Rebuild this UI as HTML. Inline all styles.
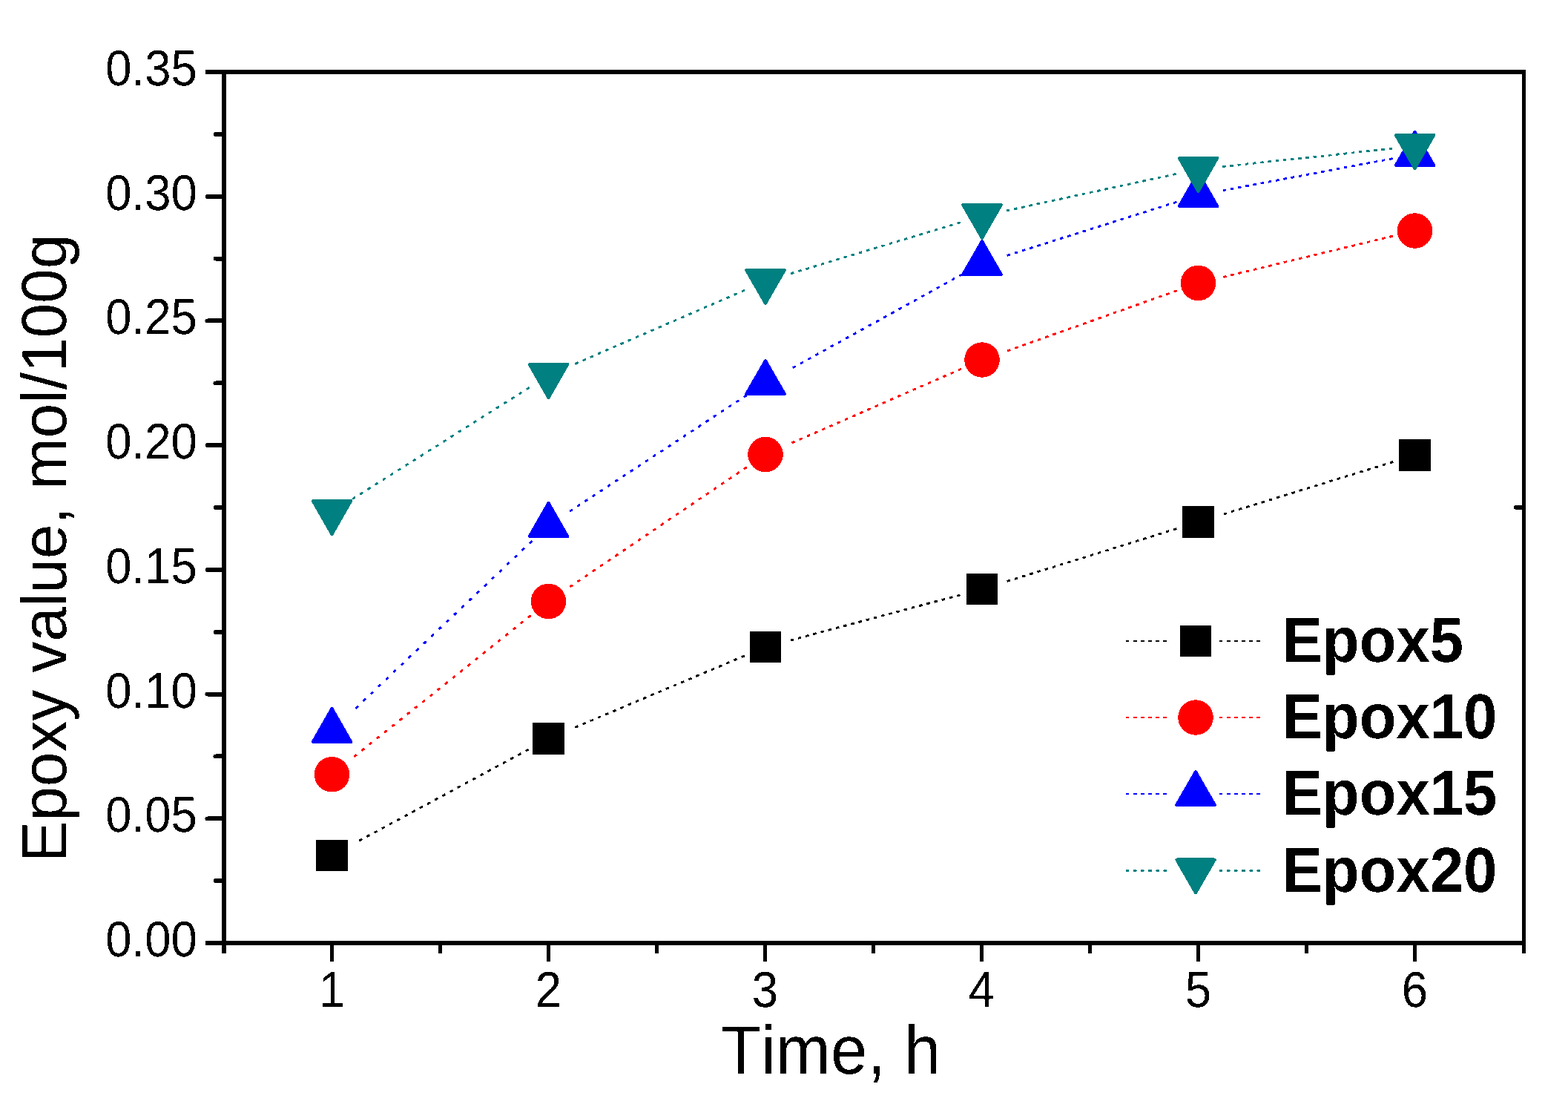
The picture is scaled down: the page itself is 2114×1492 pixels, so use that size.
<!DOCTYPE html>
<html lang="en"><head><meta charset="utf-8"><title>Epoxy value vs. time</title>
<style>
html,body{margin:0;padding:0;background:#fff;}
body{width:2114px;height:1492px;overflow:hidden;}
svg{display:block;}
text{font-family:"Liberation Sans", sans-serif;fill:#000;font-kerning:none;font-variant-ligatures:none;text-rendering:geometricPrecision;}
.tk{font-size:63.5px;}
.lg{font-size:81.5px;font-weight:bold;}
</style></head><body>
<svg width="2114" height="1492" viewBox="0 0 2114 1492">
<defs><filter id="bin" filterUnits="userSpaceOnUse" x="0" y="0" width="2114" height="1492" color-interpolation-filters="sRGB"><feComponentTransfer><feFuncA type="discrete" tableValues="0 1"/></feComponentTransfer></filter></defs>
<rect x="0" y="0" width="2114" height="1492" fill="#fff"/>
<g filter="url(#bin)">
<g fill="#000" shape-rendering="crispEdges">
<rect x="299" y="94" width="6" height="1191"/>
<rect x="2052" y="94" width="5" height="1191"/>
<rect x="277" y="94" width="1780" height="6"/>
<rect x="277" y="1268" width="1780" height="6"/>
<path d="M290.3 1187.1H300" stroke="#000" stroke-width="5.6" stroke-linecap="round" shape-rendering="geometricPrecision"/>
<path d="M279.3 1103.3H300" stroke="#000" stroke-width="5.6" stroke-linecap="round" shape-rendering="geometricPrecision"/>
<path d="M290.3 1019.4H300" stroke="#000" stroke-width="5.6" stroke-linecap="round" shape-rendering="geometricPrecision"/>
<path d="M279.3 935.6H300" stroke="#000" stroke-width="5.6" stroke-linecap="round" shape-rendering="geometricPrecision"/>
<path d="M290.3 851.7H300" stroke="#000" stroke-width="5.6" stroke-linecap="round" shape-rendering="geometricPrecision"/>
<path d="M279.3 767.9H300" stroke="#000" stroke-width="5.6" stroke-linecap="round" shape-rendering="geometricPrecision"/>
<path d="M290.3 684.0H300" stroke="#000" stroke-width="5.6" stroke-linecap="round" shape-rendering="geometricPrecision"/>
<path d="M279.3 600.1H300" stroke="#000" stroke-width="5.6" stroke-linecap="round" shape-rendering="geometricPrecision"/>
<path d="M290.3 516.3H300" stroke="#000" stroke-width="5.6" stroke-linecap="round" shape-rendering="geometricPrecision"/>
<path d="M279.3 432.4H300" stroke="#000" stroke-width="5.6" stroke-linecap="round" shape-rendering="geometricPrecision"/>
<path d="M290.3 348.6H300" stroke="#000" stroke-width="5.6" stroke-linecap="round" shape-rendering="geometricPrecision"/>
<path d="M279.3 264.7H300" stroke="#000" stroke-width="5.6" stroke-linecap="round" shape-rendering="geometricPrecision"/>
<path d="M290.3 180.9H300" stroke="#000" stroke-width="5.6" stroke-linecap="round" shape-rendering="geometricPrecision"/>
<path d="M447.5 1273V1293.8" stroke="#000" stroke-width="5.2" stroke-linecap="round" shape-rendering="geometricPrecision"/>
<path d="M593.5 1273V1282.8" stroke="#000" stroke-width="5.2" stroke-linecap="round" shape-rendering="geometricPrecision"/>
<path d="M739.5 1273V1293.8" stroke="#000" stroke-width="5.2" stroke-linecap="round" shape-rendering="geometricPrecision"/>
<path d="M885.5 1273V1282.8" stroke="#000" stroke-width="5.2" stroke-linecap="round" shape-rendering="geometricPrecision"/>
<path d="M1031.5 1273V1293.8" stroke="#000" stroke-width="5.2" stroke-linecap="round" shape-rendering="geometricPrecision"/>
<path d="M1177.5 1273V1282.8" stroke="#000" stroke-width="5.2" stroke-linecap="round" shape-rendering="geometricPrecision"/>
<path d="M1323.5 1273V1293.8" stroke="#000" stroke-width="5.2" stroke-linecap="round" shape-rendering="geometricPrecision"/>
<path d="M1469.5 1273V1282.8" stroke="#000" stroke-width="5.2" stroke-linecap="round" shape-rendering="geometricPrecision"/>
<path d="M1615.5 1273V1293.8" stroke="#000" stroke-width="5.2" stroke-linecap="round" shape-rendering="geometricPrecision"/>
<path d="M1761.5 1273V1282.8" stroke="#000" stroke-width="5.2" stroke-linecap="round" shape-rendering="geometricPrecision"/>
<path d="M1907.5 1273V1293.8" stroke="#000" stroke-width="5.2" stroke-linecap="round" shape-rendering="geometricPrecision"/>
<path d="M2043.6 684H2053" stroke="#000" stroke-width="5.6" stroke-linecap="round" shape-rendering="geometricPrecision"/>
</g>
<g class="tk">
<text transform="translate(142.2 1289.0) scale(1 1.068)">0.00</text>
<text transform="translate(142.2 1121.3) scale(1 1.068)">0.05</text>
<text transform="translate(142.2 953.6) scale(1 1.068)">0.10</text>
<text transform="translate(142.2 785.9) scale(1 1.068)">0.15</text>
<text transform="translate(142.2 618.1) scale(1 1.068)">0.20</text>
<text transform="translate(142.2 450.4) scale(1 1.068)">0.25</text>
<text transform="translate(142.2 282.7) scale(1 1.068)">0.30</text>
<text transform="translate(142.2 115.0) scale(1 1.068)">0.35</text>
<text transform="translate(447.5 1357) scale(1 1.068)" text-anchor="middle">1</text>
<text transform="translate(739.5 1357) scale(1 1.068)" text-anchor="middle">2</text>
<text transform="translate(1031.5 1357) scale(1 1.068)" text-anchor="middle">3</text>
<text transform="translate(1323.5 1357) scale(1 1.068)" text-anchor="middle">4</text>
<text transform="translate(1615.5 1357) scale(1 1.068)" text-anchor="middle">5</text>
<text transform="translate(1907.5 1357) scale(1 1.068)" text-anchor="middle">6</text>
</g>
<text transform="translate(971.8 1447.2) scale(1 1.04)" font-size="88.9">Time, h</text>
<text transform="translate(89 1162.4) rotate(-90) scale(1 1.025)" font-size="83.7">Epoxy value, mol/100g</text>
<g stroke="#000000" stroke-width="2.9" fill="none">
<path d="M712.66 1009.98L484.21 1133.20" stroke-dasharray="4.60 6.99"/>
<path d="M1003.90 883.86L775.26 980.40" stroke-dasharray="4.60 6.47"/>
<path d="M1294.53 801.87L1065.69 863.00" stroke-dasharray="4.60 5.96"/>
<path d="M1586.37 712.54L1357.58 783.58" stroke-dasharray="4.60 6.08"/>
<path d="M1878.35 622.48L1649.56 693.00" stroke-dasharray="4.60 6.07"/>
</g>
<g>
<rect x="426.2" y="1131.7" width="42.6" height="42.6" fill="#000000"/>
<rect x="718.2" y="974.2" width="42.6" height="42.6" fill="#000000"/>
<rect x="1010.7" y="850.7" width="42.6" height="42.6" fill="#000000"/>
<rect x="1302.7" y="772.7" width="42.6" height="42.6" fill="#000000"/>
<rect x="1594.2" y="682.2" width="42.6" height="42.6" fill="#000000"/>
<rect x="1886.2" y="592.2" width="42.6" height="42.6" fill="#000000"/>
</g>
<g stroke="#ff0000" stroke-width="2.9" fill="none">
<path d="M715.67 829.54L477.48 1019.85" stroke-dasharray="4.60 8.46"/>
<path d="M1006.74 629.60L768.33 790.98" stroke-dasharray="4.60 7.72"/>
<path d="M1296.05 497.20L1067.43 597.03" stroke-dasharray="4.60 6.53"/>
<path d="M1586.76 391.71L1358.02 472.92" stroke-dasharray="4.60 6.22"/>
<path d="M1877.85 318.16L1648.98 373.42" stroke-dasharray="4.60 5.89"/>
</g>
<g>
<circle cx="447.5" cy="1043.8" r="23.8" fill="#ff0000"/>
<circle cx="739.5" cy="810.5" r="23.8" fill="#ff0000"/>
<circle cx="1032" cy="612.5" r="23.8" fill="#ff0000"/>
<circle cx="1324" cy="485" r="23.8" fill="#ff0000"/>
<circle cx="1615.5" cy="381.5" r="23.8" fill="#ff0000"/>
<circle cx="1907.5" cy="311" r="23.8" fill="#ff0000"/>
</g>
<g stroke="#0000ff" stroke-width="2.9" fill="none">
<path d="M717.37 728.99L479.44 954.71" stroke-dasharray="4.60 9.46"/>
<path d="M1006.50 532.74L768.06 689.25" stroke-dasharray="4.60 7.60"/>
<path d="M1297.29 369.73L1068.86 495.68" stroke-dasharray="4.60 7.05"/>
<path d="M1586.41 272.18L1357.63 344.39" stroke-dasharray="4.60 6.10"/>
<path d="M1877.53 213.65L1648.61 256.76" stroke-dasharray="4.60 5.78"/>
</g>
<g>
<path d="M421.7 1000L473.3 1000L447.5 955Z" fill="#0000ff" stroke="#0000ff" stroke-width="4" stroke-linejoin="round"/>
<path d="M713.7 723L765.3 723L739.5 678Z" fill="#0000ff" stroke="#0000ff" stroke-width="4" stroke-linejoin="round"/>
<path d="M1006.2 531L1057.8 531L1032 486Z" fill="#0000ff" stroke="#0000ff" stroke-width="4" stroke-linejoin="round"/>
<path d="M1298.2 370L1349.8 370L1324 325Z" fill="#0000ff" stroke="#0000ff" stroke-width="4" stroke-linejoin="round"/>
<path d="M1589.7 278L1641.3 278L1615.5 233Z" fill="#0000ff" stroke="#0000ff" stroke-width="4" stroke-linejoin="round"/>
<path d="M1881.7 223L1933.3 223L1907.5 178Z" fill="#0000ff" stroke="#0000ff" stroke-width="4" stroke-linejoin="round"/>
</g>
<g stroke="#008080" stroke-width="2.9" fill="none">
<path d="M713.70 522.26L475.20 672.54" stroke-dasharray="4.60 7.46"/>
<path d="M1004.02 391.15L775.40 490.41" stroke-dasharray="4.60 6.52"/>
<path d="M1294.80 299.80L1065.99 368.76" stroke-dasharray="4.60 6.05"/>
<path d="M1585.69 234.44L1356.79 283.91" stroke-dasharray="4.60 5.84"/>
<path d="M1877.17 200.22L1648.20 224.53" stroke-dasharray="4.60 5.66"/>
</g>
<g>
<path d="M421.7 675L473.3 675L447.5 720Z" fill="#008080" stroke="#008080" stroke-width="4" stroke-linejoin="round"/>
<path d="M713.7 491L765.3 491L739.5 536Z" fill="#008080" stroke="#008080" stroke-width="4" stroke-linejoin="round"/>
<path d="M1006.2 364L1057.8 364L1032 409Z" fill="#008080" stroke="#008080" stroke-width="4" stroke-linejoin="round"/>
<path d="M1298.2 276L1349.8 276L1324 321Z" fill="#008080" stroke="#008080" stroke-width="4" stroke-linejoin="round"/>
<path d="M1589.7 213L1641.3 213L1615.5 258Z" fill="#008080" stroke="#008080" stroke-width="4" stroke-linejoin="round"/>
<path d="M1881.7 182L1933.3 182L1907.5 227Z" fill="#008080" stroke="#008080" stroke-width="4" stroke-linejoin="round"/>
</g>
<g stroke="#000000" stroke-width="2.6" stroke-dasharray="4.4 5.7" fill="none">
<path d="M1518 864H1574"/><path d="M1644 864H1701"/>
</g>
<rect x="1590.7" y="842.7" width="42.6" height="42.6" fill="#000000"/>
<text class="lg" transform="translate(1728.5 891.8) scale(1 1.05)">Epox5</text>
<g stroke="#ff0000" stroke-width="2.6" stroke-dasharray="4.4 5.7" fill="none">
<path d="M1518 967H1574"/><path d="M1644 967H1701"/>
</g>
<circle cx="1612" cy="967" r="23.8" fill="#ff0000"/>
<text class="lg" transform="translate(1728.5 994.8) scale(1 1.05)">Epox10</text>
<g stroke="#0000ff" stroke-width="2.6" stroke-dasharray="4.4 5.7" fill="none">
<path d="M1518 1070H1574"/><path d="M1644 1070H1701"/>
</g>
<path d="M1586.2 1085L1637.8 1085L1612 1040Z" fill="#0000ff" stroke="#0000ff" stroke-width="4" stroke-linejoin="round"/>
<text class="lg" transform="translate(1728.5 1097.7) scale(1 1.05)">Epox15</text>
<g stroke="#008080" stroke-width="2.6" stroke-dasharray="4.4 5.7" fill="none">
<path d="M1518 1173.5H1574"/><path d="M1644 1173.5H1701"/>
</g>
<path d="M1586.2 1158.5L1637.8 1158.5L1612 1203.5Z" fill="#008080" stroke="#008080" stroke-width="4" stroke-linejoin="round"/>
<text class="lg" transform="translate(1728.5 1201.8) scale(1 1.05)">Epox20</text>
</g>
</svg>
</body></html>
